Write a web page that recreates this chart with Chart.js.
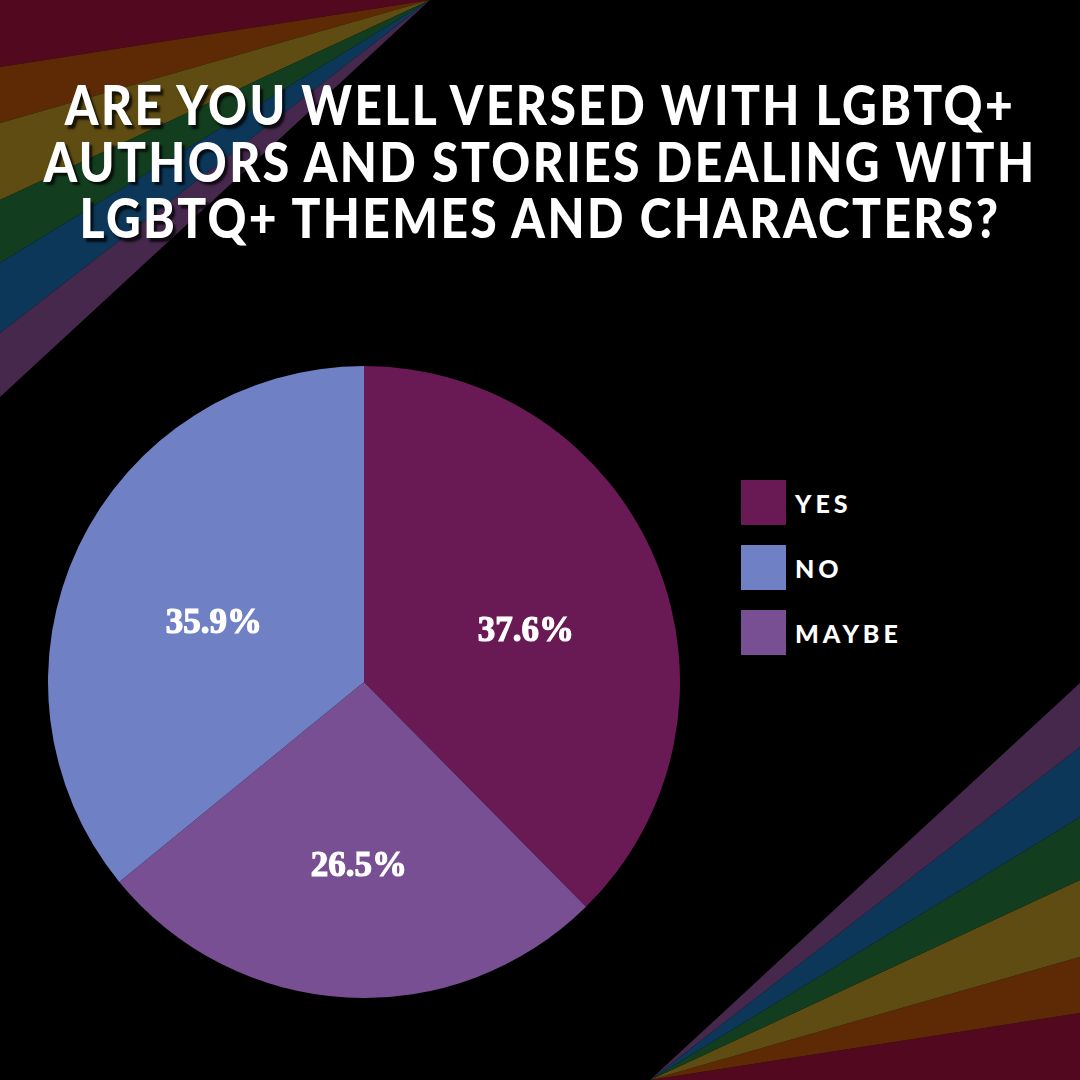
<!DOCTYPE html>
<html>
<head>
<meta charset="utf-8">
<script src="https://cdn.jsdelivr.net/npm/chart.js@4"></script>
<style>
  html, body { margin: 0; padding: 0; background: #000; }
  #wrap { position: relative; width: 1080px; height: 1080px; overflow: hidden; background: #000; }
  #bg { position: absolute; left: 0; top: 0; }
  #title {
    position: absolute; left: 0; top: 76px; width: 1080px; text-align: center;
    color: #fff; font-family: Lato, sans-serif; font-weight: 900; font-size: 48px;
    line-height: 49px; letter-spacing: 2.4px; white-space: nowrap;
    text-shadow: 3px 3px 2px rgba(0,0,0,0.75);
    transform: scaleY(1.15); transform-origin: 50% 0;
  }
  #pieBox { position: absolute; left: 48px; top: 366px; width: 632px; height: 632px; }
  #legend { position: absolute; left: 741px; top: 480px; }
  .item { display: flex; align-items: center; height: 45px; margin-bottom: 20px; }
  .swatch { width: 45px; height: 45px; margin-right: 9px; }
  .lbl { color: #fff; font-family: Lato, sans-serif; font-weight: 900; font-size: 25px; letter-spacing: 4px; }
</style>
</head>
<body>
<div id="wrap">
  <svg id="bg" width="1080" height="1080">
    <g id="beamsTL"></g>
    <g id="beamsBR"></g>
  </svg>
  <div id="title">ARE YOU WELL VERSED WITH LGBTQ+<br>AUTHORS AND STORIES DEALING WITH<br>LGBTQ+ THEMES AND CHARACTERS?</div>
  <div id="pieBox"><canvas id="pie"></canvas></div>
  <div id="legend"></div>
</div>
<script>
// answers in the order they go round the pie (clockwise from the top)
const answers = ['YES', 'MAYBE', 'NO'];
const shares = [37.6, 26.5, 35.9];
const answerColors = ['#691a55', '#774f92', '#7080c5'];
// legend order in the picture
const legendOrder = ['YES', 'NO', 'MAYBE'];

// rainbow beams in the corners
const beamColors = ['#52081f', '#5e2a05', '#5e4c12', '#133d1f', '#0c3759', '#45284c'];
const beamEdges = [0, 67, 123, 200, 263, 333, 397];

function drawBeams() {
  const ns = 'http://www.w3.org/2000/svg';
  const tl = document.getElementById('beamsTL');
  const br = document.getElementById('beamsBR');
  for (let i = 0; i < beamColors.length; i++) {
    const a = beamEdges[i], b = beamEdges[i + 1];
    let p = document.createElementNS(ns, 'polygon');
    p.setAttribute('points', '430,0 0,' + a + ' 0,' + b);
    if (i === 0) p.setAttribute('points', '430,0 0,0 0,' + b);
    p.setAttribute('fill', beamColors[i]);
    tl.appendChild(p);
    let q = document.createElementNS(ns, 'polygon');
    q.setAttribute('points', '650,1080 1080,' + (1080 - a) + ' 1080,' + (1080 - b));
    if (i === 0) q.setAttribute('points', '650,1080 1080,1080 1080,' + (1080 - b));
    q.setAttribute('fill', beamColors[i]);
    br.appendChild(q);
  }
}
drawBeams();

// percentage labels inside the slices
const sliceLabels = {
  id: 'sliceLabels',
  afterDatasetsDraw(chart) {
    const ctx = chart.ctx;
    const meta = chart.getDatasetMeta(0);
    ctx.save();
    ctx.fillStyle = '#fff';
    ctx.strokeStyle = '#fff';
    ctx.lineWidth = 1.2;
    ctx.font = 'bold 35px "Liberation Serif", serif';
    ctx.textAlign = 'center';
    ctx.textBaseline = 'middle';
    meta.data.forEach(function(arc, i) {
      const p = arc.getProps(['x', 'y', 'startAngle', 'endAngle', 'outerRadius'], true);
      const mid = (p.startAngle + p.endAngle) / 2;
      const r = p.outerRadius * 0.54;
      const txt = shares[i].toFixed(1) + '%';
      // labels sit a little below the radial point in the original
      const x = p.x + Math.cos(mid) * r + 4;
      const y = p.y + Math.sin(mid) * r + 15;
      ctx.fillText(txt, x, y);
      ctx.strokeText(txt, x, y);
    });
    ctx.restore();
  }
};

new Chart(document.getElementById('pie'), {
  type: 'pie',
  data: {
    labels: answers,
    datasets: [{
      data: shares,
      backgroundColor: answerColors,
      borderWidth: 0,
      hoverOffset: 0
    }]
  },
  options: {
    responsive: true,
    maintainAspectRatio: false,
    animation: false,
    layout: { padding: 0 },
    plugins: {
      legend: { display: false },
      tooltip: { enabled: false }
    }
  },
  plugins: [sliceLabels]
});

// legend
const legend = document.getElementById('legend');
legendOrder.forEach(function(name) {
  const idx = answers.indexOf(name);
  const item = document.createElement('div');
  item.className = 'item';
  item.innerHTML = '<div class="swatch" style="background:' + answerColors[idx] + '"></div><span class="lbl">' + name + '</span>';
  legend.appendChild(item);
});
</script>
</body>
</html>
